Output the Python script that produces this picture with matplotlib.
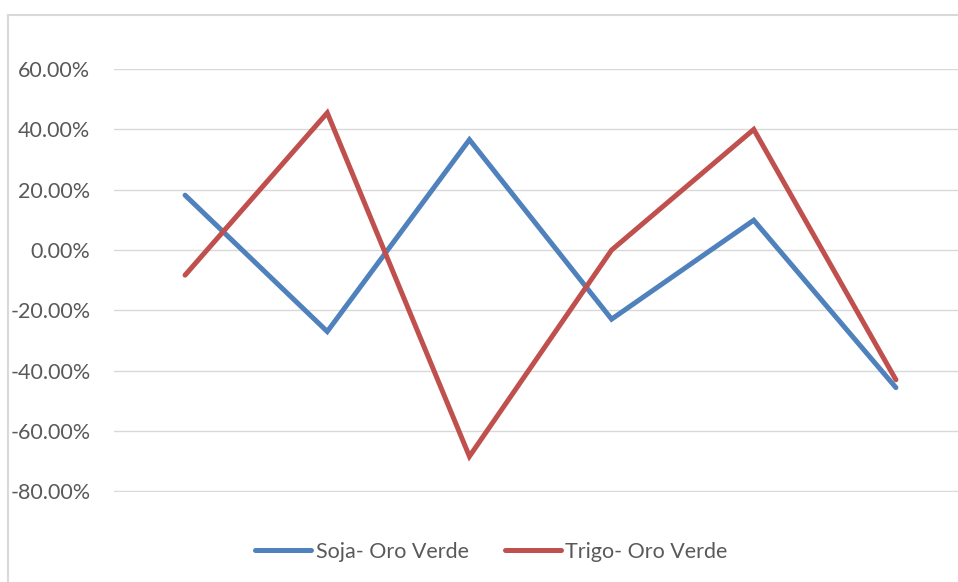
import numpy as np
import matplotlib
matplotlib.use("Agg")
import matplotlib.pyplot as plt
from matplotlib.lines import Line2D
from matplotlib.ticker import FuncFormatter

# datos
periodos = [1, 2, 3, 4, 5, 6]
soja = [0.182, -0.270, 0.366, -0.229, 0.099, -0.456]
trigo = [-0.083, 0.455, -0.684, 0.000, 0.400, -0.430]
nombres = ["Soja- Oro Verde", "Trigo- Oro Verde"]
colores = ["#4F81BD", "#C0504D"]
yticks = [-0.8, -0.6, -0.4, -0.2, 0.0, 0.2, 0.4, 0.6]

plt.rcParams['font.family'] = ['Lato', 'DejaVu Sans']

W, H = 958, 582
fig = plt.figure(figsize=(W / 100, H / 100), dpi=100)

# marco exterior del grafico: solo arriba e izquierda, el resto queda fuera de la imagen
borde = "#D9D9D9"
fig.add_artist(Line2D([8 / W, 1.0], [1 - 15 / H, 1 - 15 / H], transform=fig.transFigure, color=borde, linewidth=1.5))
fig.add_artist(Line2D([8 / W, 8 / W], [0.0, 1 - 15 / H], transform=fig.transFigure, color=borde, linewidth=1.5))

ax = fig.add_axes([114 / W, 1 - 492 / H, 853 / W, (492 - 68.5) / H])
x = np.arange(len(periodos))
ax.plot(x, soja, color=colores[0], linewidth=3.6, solid_capstyle="round", solid_joinstyle="miter", label=nombres[0], zorder=3)
ax.plot(x, trigo, color=colores[1], linewidth=3.6, solid_capstyle="round", solid_joinstyle="miter", label=nombres[1], zorder=3)

ax.set_xlim(-0.5, len(periodos) - 0.5)
ax.set_ylim(-0.802, 0.602)
ax.set_yticks(yticks)
ax.yaxis.set_major_formatter(FuncFormatter(lambda v, p: "%.2f%%" % (v * 100)))
ax.set_xticks([])
ax.grid(axis="y", color="#D9D9D9", linewidth=1.0)
ax.set_axisbelow(True)
for s in ax.spines.values():
    s.set_visible(False)
ax.tick_params(axis="y", length=0, pad=17, labelsize=15.5, labelcolor="#595959")

fig.legend(loc="center", bbox_to_anchor=(491.5 / W, 1 - 552 / H), ncol=2, frameon=False,
           fontsize=15.5, labelcolor="#595959", handlelength=2.6, handletextpad=0.2,
           columnspacing=1.7)

plt.savefig("out.png", dpi=100)
